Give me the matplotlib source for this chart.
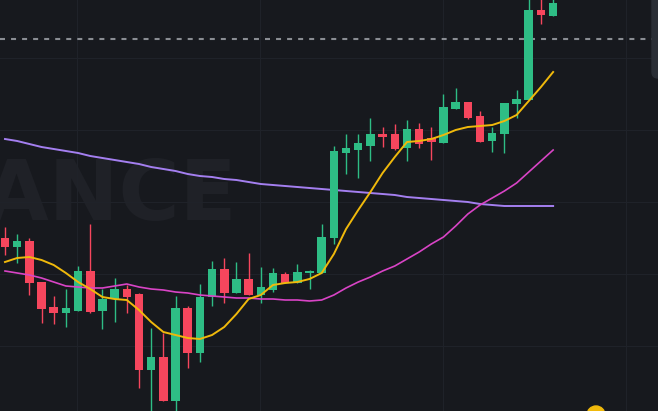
import matplotlib
matplotlib.use('Agg')
import matplotlib.pyplot as plt
import matplotlib.patches as mpatches
import numpy as np

# OHLC values (price units)
opens = [262, 253, 259, 218, 193, 187, 189, 229, 189, 201, 211, 206, 130, 143, 99, 192,
         147, 203, 231, 207, 221, 205, 210, 226, 217, 227, 227, 262, 347, 350, 354, 366,
         366, 352, 371, 362, 357, 391, 398, 384, 359, 366, 396, 400, 490, 484]
highs = [273, 266, 262, 218, 204, 211, 234, 276, 211, 222, 215, 207, 172, 167, 204, 194,
         216, 239, 242, 238, 247, 233, 232, 228, 236, 230, 276, 354, 366, 366, 382, 373,
         376, 380, 377, 373, 406, 412, 398, 389, 373, 397, 410, 505, 505, 505]
lows = [245, 237, 205, 177, 176, 173, 189, 187, 171, 178, 187, 112, 85, 99, 85, 132,
        138, 194, 197, 207, 205, 197, 208, 217, 217, 211, 227, 256, 326, 322, 339, 353,
        350, 339, 352, 340, 357, 391, 381, 358, 348, 347, 382, 400, 476, 484]
closes = [253, 259, 217, 191, 187, 192, 229, 188, 201, 211, 203, 130, 143, 99, 192, 147,
          203, 231, 207, 221, 205, 213, 227, 217, 228, 229, 263, 349, 352, 357, 366, 363,
          351, 371, 356, 358, 393, 398, 382, 358, 367, 397, 401, 490, 485, 497]

# moving averages
ma_fast = [238, 242, 243, 240, 235, 227, 218, 211, 203, 201, 200, 190, 178, 168, 165, 162,
           161, 165, 173, 186, 201, 205, 215, 217, 218, 221, 227, 246, 271, 290, 308, 327,
           343, 358, 359, 361, 365, 370, 373, 374, 375, 379, 385, 399, 413, 428]
ma_mid = [229, 227, 225, 222, 218, 214, 213, 212, 212, 214, 216, 213, 211, 210, 208, 207,
          205, 204, 203, 202, 202, 201, 201, 200, 200, 199, 200, 205, 212, 218, 223, 229,
          234, 241, 248, 256, 263, 274, 286, 295, 302, 309, 317, 328, 339, 350]
ma_slow = [361, 359, 356, 353, 351, 349, 347, 344, 342, 340, 338, 336, 333, 331, 329, 326,
           324, 323, 321, 320, 318, 316, 315, 314, 313, 312, 311, 310, 309, 308, 307, 306,
           305, 303, 302, 301, 300, 299, 298, 296, 295, 294, 294, 294, 294, 294]

last_price = 461
grid_prices = [154, 226, 298, 370, 442]
grid_times = [5.9, 20.9, 36.0, 51.0]

bg = '#17191e'
up_col = '#2ebd85'
down_col = '#f6465d'

fig = plt.figure(figsize=(6.58, 4.11), dpi=100, facecolor=bg)
ax = fig.add_axes([0, 0, 1, 1])
ax.set_facecolor(bg)

x = np.arange(len(opens))
o = np.array(opens)
c = np.array(closes)
colors = [up_col if cc >= oo else down_col for oo, cc in zip(o, c)]

# watermark (cut off at the left edge, as in the screenshot)
ax.text(237 / 658, (411 - 220) / 411, 'BINANCE', transform=ax.transAxes,
        ha='right', va='baseline', fontsize=60, fontweight='bold',
        color='#1f2127', zorder=0)

# grid
ax.set_xticks(grid_times)
ax.set_yticks(grid_prices)
ax.grid(True, color='#1f2229', linewidth=0.8)
ax.set_axisbelow(True)

ax.plot(x, ma_slow, color='#a47ff0', linewidth=1.4, zorder=2)

ax.vlines(x, lows, highs, colors=colors, linewidth=1.0, zorder=3)
ax.bar(x, np.abs(c - o), bottom=np.minimum(o, c), width=0.7, color=colors,
       linewidth=0, zorder=3)

ax.plot(x, ma_mid, color='#d944c6', linewidth=1.2, zorder=4)
ax.plot(x, ma_fast, color='#f0b90b', linewidth=1.4, zorder=4)

ax.axhline(last_price, color='#8a8d93', linewidth=1.5, linestyle=(0, (2.4, 2.9)), zorder=1)

ax.set_xlim(-0.41, 53.61)
ax.set_ylim(89, 500)
ax.tick_params(length=0, labelbottom=False, labelleft=False)
for s in ax.spines.values():
    s.set_visible(False)

# bits of UI at the edges
fig.add_artist(mpatches.FancyBboxPatch((652, 333), 20, 90,
                                       boxstyle='round,pad=0,rounding_size=6',
                                       transform=None, color='#2a2e35'))
fig.add_artist(mpatches.Circle((596, -4), 9, transform=None, color='#f0b90b'))

fig.savefig('out.png', dpi=100, facecolor=bg)
